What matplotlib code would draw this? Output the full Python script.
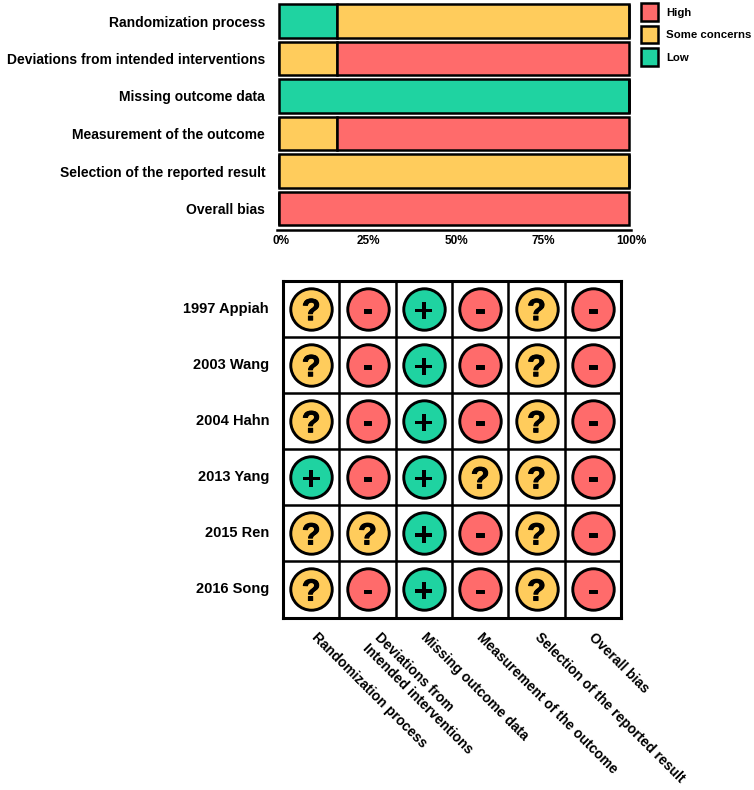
import matplotlib
matplotlib.use("Agg")
import matplotlib.pyplot as plt
import matplotlib.patheffects as pe
from matplotlib.patches import Patch
from matplotlib.transforms import ScaledTranslation

plt.rcParams["font.family"] = ["Liberation Sans", "DejaVu Sans"]
plt.rcParams["font.weight"] = "bold"

W, H = 754, 790

domains = ["Randomization process", "Deviations from intended interventions",
           "Missing outcome data", "Measurement of the outcome",
           "Selection of the reported result", "Overall bias"]
domains_wrapped = ["Randomization process", "Deviations from\nIntended interventions",
                   "Missing outcome data", "Measurement of the outcome",
                   "Selection of the reported result", "Overall bias"]

low = [16.67, 0, 100, 0, 0, 0]
some = [83.33, 16.67, 0, 16.67, 100, 0]
high = [0, 83.33, 0, 83.33, 0, 100]
pct_ticks = [0, 25, 50, 75, 100]

studies = ["1997 Appiah", "2003 Wang", "2004 Hahn", "2013 Yang", "2015 Ren", "2016 Song"]
judgements = [["?", "-", "+", "-", "?", "-"],
              ["?", "-", "+", "-", "?", "-"],
              ["?", "-", "+", "-", "?", "-"],
              ["+", "-", "+", "?", "?", "-"],
              ["?", "?", "+", "-", "?", "-"],
              ["?", "-", "+", "-", "?", "-"]]

colors = {"High": "#FF6B6B", "Some concerns": "#FFCC5C", "Low": "#1FD3A1"}
sym_color = {"-": colors["High"], "?": colors["Some concerns"], "+": colors["Low"]}
# the plus reads too blunt with a stroke, so it only gets a bigger size
sym_size = {"-": 22, "?": 22, "+": 24}
sym_stroke = {"-": 0.7, "?": 0.7, "+": 0}
sym_lift = {"-": 1.2, "?": 0.3, "+": -0.3}


def px_axes(fig, left, top, right, bottom):
    return fig.add_axes([left / W, 1 - bottom / H, (right - left) / W, (bottom - top) / H])


def shift(label, fig, dx, dy):
    # nudge a tick label by some pixels
    label.set_transform(label.get_transform() + ScaledTranslation(dx / 100, -dy / 100, fig.dpi_scale_trans))


fig = plt.figure(figsize=(W / 100, H / 100), dpi=100)

# summary bars
ax = px_axes(fig, 277, 2.25, 631, 229.5)
left = [0] * 6
for name, vals in [("Low", low), ("Some concerns", some), ("High", high)]:
    ax.barh(range(6), vals, left=left, height=0.89, color=colors[name],
            edgecolor="black", linewidth=1.8)
    left = [a + b for a, b in zip(left, vals)]
ax.set_xlim(-0.57, 100.57)
ax.set_ylim(5.56, -0.5)
ax.set_yticks(range(6))
ax.set_yticklabels(domains, fontsize=10)
ax.set_xticks(pct_ticks)
ax.set_xticklabels([f"{p}%" for p in pct_ticks], fontsize=8.5)
ax.tick_params(axis="both", length=0)
ax.tick_params(axis="y", pad=8.5)
ax.tick_params(axis="x", pad=4)
for s in ["top", "left", "right"]:
    ax.spines[s].set_visible(False)
ax.spines["bottom"].set_linewidth(1.8)
for lab in ax.get_xticklabels():
    shift(lab, fig, 2, 0)

handles = [Patch(facecolor=colors[k], edgecolor="black", linewidth=1.8) for k in colors]
fig.legend(handles, list(colors), loc="upper left", bbox_to_anchor=(640.5 / W, 1 - 3 / H),
           frameon=False, fontsize=8.2, handlelength=1.55, handleheight=2.05,
           handletextpad=0.7, labelspacing=0.4, borderpad=0, borderaxespad=0)

# traffic light grid
ax2 = px_axes(fig, 283, 281, 621, 617.5)
for i, row in enumerate(judgements):
    for j, sym in enumerate(row):
        ax2.scatter(j, i, s=890, color=sym_color[sym], edgecolor="black",
                    linewidth=2.1, zorder=3)
        ax2.annotate(sym, (j, i), xytext=(0, sym_lift[sym]), textcoords="offset points",
                     ha="center", va="center_baseline", fontsize=sym_size[sym],
                     color="black", zorder=4,
                     path_effects=[pe.withStroke(linewidth=sym_stroke[sym], foreground="black")])
ax2.set_xlim(-0.5, 5.5)
ax2.set_ylim(5.5, -0.5)
ax2.set_xticks([x + 0.5 for x in range(5)], minor=True)
ax2.set_yticks([y + 0.5 for y in range(5)], minor=True)
ax2.grid(which="minor", color="black", linewidth=1.8)
ax2.tick_params(which="both", length=0)
ax2.set_axisbelow(True)
ax2.set_yticks(range(6))
ax2.set_yticklabels(studies, fontsize=10.5)
ax2.tick_params(axis="y", which="major", pad=10)
ax2.set_xticks(range(6))
ax2.set_xticklabels(domains_wrapped, fontsize=10, rotation=-45, ha="left",
                    rotation_mode="anchor", va="top", linespacing=1.2)
ax2.tick_params(axis="x", which="major", pad=9)
for s in ax2.spines.values():
    s.set_linewidth(2.2)
for lab, dx in zip(ax2.get_xticklabels(), [8, 14, 4, 4, 5, 3]):
    shift(lab, fig, dx, 0)
for lab in ax2.get_yticklabels():
    shift(lab, fig, 0, -1.5)

fig.savefig("out.png", dpi=100)
